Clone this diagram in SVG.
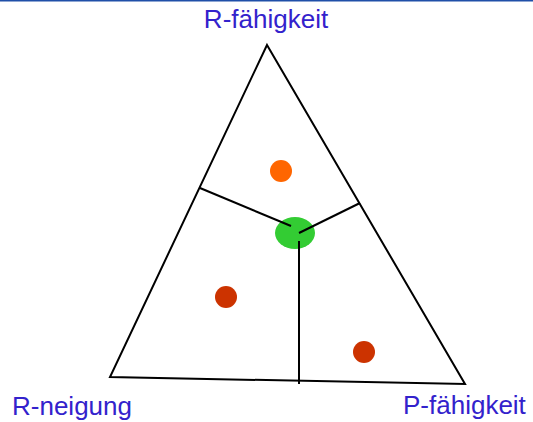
<svg xmlns="http://www.w3.org/2000/svg" width="533" height="422" viewBox="0 0 533 422">
<style>
.lbl{font-family:"Liberation Sans",Arial,sans-serif;font-size:26px;fill:#3322cc}
.ln{stroke:#000;stroke-width:2;fill:none}
</style>
<rect x="0" y="0" width="533" height="422" fill="#fff"/>
<line x1="0" y1="0.75" x2="533" y2="0.75" stroke="#1f4fa8" stroke-width="1.5"/>
<g id="triangle"><path class="ln" d="M267,45 L465,384 L110,377 Z"/></g>
<g id="center"><ellipse cx="295" cy="233" rx="20" ry="16" fill="#33cc33"/></g>
<g id="connectors">
<line class="ln" x1="200" y1="188" x2="291" y2="226"/>
<line class="ln" x1="360" y1="203" x2="299" y2="233"/>
<line class="ln" x1="299" y1="241" x2="299" y2="384"/>
</g>
<g id="dot-orange"><circle cx="281" cy="171" r="11" fill="#ff6600"/></g>
<g id="dot-red-1"><circle cx="226" cy="297" r="11" fill="#cc3300"/></g>
<g id="dot-red-2"><circle cx="364" cy="352" r="11" fill="#cc3300"/></g>
<g id="label-top"><text class="lbl" x="266" y="28" text-anchor="middle">R-fähigkeit</text></g>
<g id="label-left"><text class="lbl" x="12" y="415">R-neigung</text></g>
<g id="label-right"><text class="lbl" x="403" y="414">P-fähigkeit</text></g>
</svg>
